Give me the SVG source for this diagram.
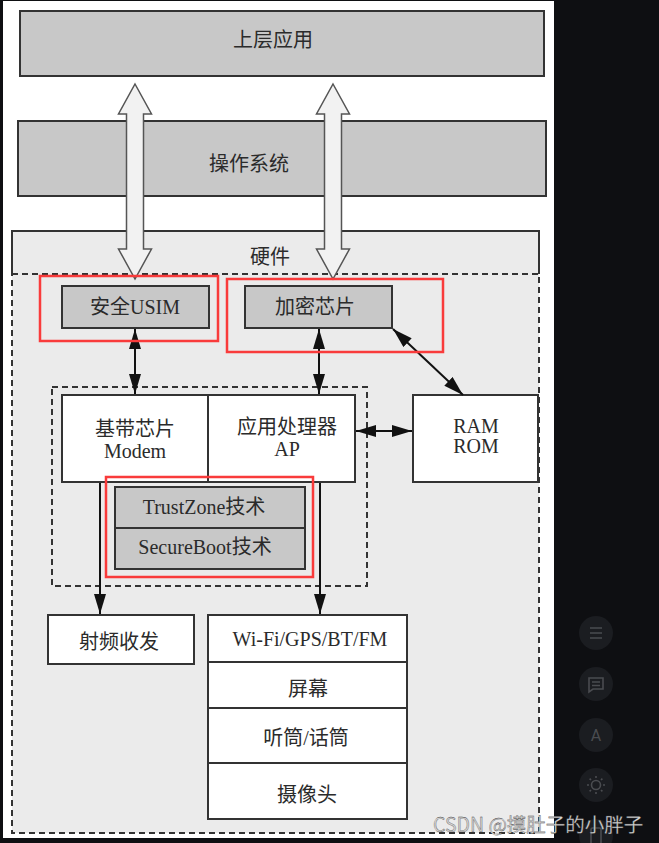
<svg xmlns="http://www.w3.org/2000/svg" width="659" height="843" viewBox="0 0 659 843">
<style>
.box{stroke:#333;stroke-width:2}
.gray{fill:#c8c8c8}
.white{fill:#fff}
.t{font-family:"Liberation Serif","Noto Sans CJK SC",serif;font-size:20px;fill:#2b2b2b;text-anchor:middle}
.dash{fill:none;stroke:#333;stroke-width:2;stroke-dasharray:6 4}
.red{fill:none;stroke:#f93b3b;stroke-width:2.5}
.conn{stroke:#111;stroke-width:2;fill:none}
.hollow{fill:#f2f2f2;stroke:#555;stroke-width:1.5}
.ui{fill:#1b1d21}
.uic{fill:none;stroke:#4a4c50;stroke-width:1.6}
</style>
<defs>
<marker id="ah" viewBox="0 0 20 12" refX="20" refY="6" markerWidth="20" markerHeight="12" markerUnits="userSpaceOnUse" orient="auto-start-reverse">
<path d="M0,0 L20,6 L0,12 Z" fill="#111"/>
</marker>
</defs>
<rect x="0" y="0" width="659" height="843" fill="#0e0f12"/>
<rect x="3" y="1" width="551" height="837" fill="#fff"/>

<g id="app">
<rect class="box gray" x="20" y="11" width="524" height="65"/>
<text class="t" x="273" y="47">上层应用</text>
</g>
<g id="os">
<rect class="box gray" x="18" y="121" width="528" height="75"/>
<text class="t" x="249" y="171">操作系统</text>
</g>
<g id="hardware">
<rect x="12" y="231" width="527" height="602" fill="#ebebeb"/>
<path d="M12,274 V231 H539 V274" fill="none" stroke="#333" stroke-width="2"/>
<rect class="dash" x="12" y="274" width="527" height="559"/>
<text class="t" x="270" y="264">硬件</text>
</g>
<g id="usim">
<rect class="box gray" x="62" y="286" width="147" height="42"/>
<text class="t" x="135" y="314">安全USIM</text>
</g>
<g id="crypto">
<rect class="box gray" x="245" y="286" width="147" height="42"/>
<text class="t" x="315" y="314">加密芯片</text>
</g>
<g id="soc">
<rect class="dash" x="52" y="387" width="315" height="199"/>
</g>
<g id="modem">
<rect class="box white" x="62" y="395" width="146" height="87"/>
<text class="t" x="135" y="436">基带芯片</text>
<text class="t" x="135" y="458">Modem</text>
</g>
<g id="ap">
<rect class="box white" x="208" y="395" width="147" height="87"/>
<text class="t" x="287" y="434">应用处理器</text>
<text class="t" x="287" y="456">AP</text>
</g>
<g id="ram">
<rect class="box white" x="413" y="395" width="125" height="87"/>
<text class="t" x="476" y="433">RAM</text>
<text class="t" x="476" y="453">ROM</text>
</g>
<g id="trustzone">
<rect class="box gray" x="115" y="487" width="190" height="41"/>
<text class="t" x="204" y="514">TrustZone技术</text>
</g>
<g id="secureboot">
<rect class="box gray" x="115" y="528" width="190" height="41"/>
<text class="t" x="205" y="554">SecureBoot技术</text>
</g>
<g id="rf">
<rect class="box white" x="48" y="615" width="146" height="49"/>
<text class="t" x="119" y="649">射频收发</text>
</g>
<g id="wifi">
<rect class="box white" x="208" y="615" width="199" height="47"/>
<text class="t" x="310" y="646">Wi-Fi/GPS/BT/FM</text>
</g>
<g id="screen">
<rect class="box white" x="208" y="662" width="199" height="46"/>
<text class="t" x="308" y="696">屏幕</text>
</g>
<g id="audio">
<rect class="box white" x="208" y="708" width="199" height="55"/>
<text class="t" x="306" y="745">听筒/话筒</text>
</g>
<g id="camera">
<rect class="box white" x="208" y="763" width="199" height="56"/>
<text class="t" x="307" y="802">摄像头</text>
</g>

<g id="connectors">
<line class="conn" x1="135" y1="329" x2="135" y2="394" marker-start="url(#ah)" marker-end="url(#ah)"/>
<line class="conn" x1="319" y1="329" x2="319" y2="394" marker-start="url(#ah)" marker-end="url(#ah)"/>
<line class="conn" x1="393" y1="329" x2="463" y2="395" marker-start="url(#ah)" marker-end="url(#ah)"/>
<line class="conn" x1="356" y1="431" x2="412" y2="431" marker-start="url(#ah)" marker-end="url(#ah)"/>
<line class="conn" x1="100" y1="483" x2="100" y2="614" marker-end="url(#ah)"/>
<line class="conn" x1="320" y1="483" x2="320" y2="614" marker-end="url(#ah)"/>
<path class="hollow" d="M135,84 L151.5,114 L143.5,114 L143.5,249 L151.5,249 L135,279 L118.5,249 L126.5,249 L126.5,114 L118.5,114 Z"/>
<path class="hollow" d="M333,84 L349.5,114 L341.5,114 L341.5,249 L349.5,249 L333,279 L316.5,249 L324.5,249 L324.5,114 L316.5,114 Z"/>
</g>

<g id="highlights">
<rect class="red" x="40" y="276" width="178" height="65"/>
<rect class="red" x="227" y="279" width="216" height="73"/>
<rect class="red" x="106" y="477" width="207" height="100"/>
</g>

<g id="sidebar">
<circle class="ui" cx="596" cy="633" r="17"/>
<path class="uic" d="M590,628 H602 M590,633 H602 M590,638 H602"/>
<circle class="ui" cx="596" cy="684" r="17"/>
<path class="uic" d="M589,678 H603 V689 H593 L589,692 Z M592,682 H600 M592,685.5 H600"/>
<circle class="ui" cx="596" cy="735" r="17"/>
<text x="596" y="741" text-anchor="middle" font-family="Roboto, 'Noto Sans', sans-serif" font-size="16" fill="#4a4c50">A</text>
<circle class="ui" cx="596" cy="785" r="17"/>
<circle class="uic" cx="596" cy="785" r="4.5"/>
<path class="uic" d="M596,776 V778 M596,792 V794 M587,785 H589 M603,785 H605 M589.6,778.6 L591,780 M601,790 L602.4,791.4 M602.4,778.6 L601,780 M591,790 L589.6,791.4"/>
<circle class="ui" cx="596" cy="836" r="17"/>
<rect class="uic" x="591" y="828" width="10" height="16" rx="1.5"/>
</g>

<text x="433" y="832" font-family="'Noto Sans CJK SC', 'Noto Sans', sans-serif" font-size="19.5" fill="#d2d2d2" stroke="#3a3a3a" stroke-width="0.3">CSDN @摸肚子的小胖子</text>
</svg>
